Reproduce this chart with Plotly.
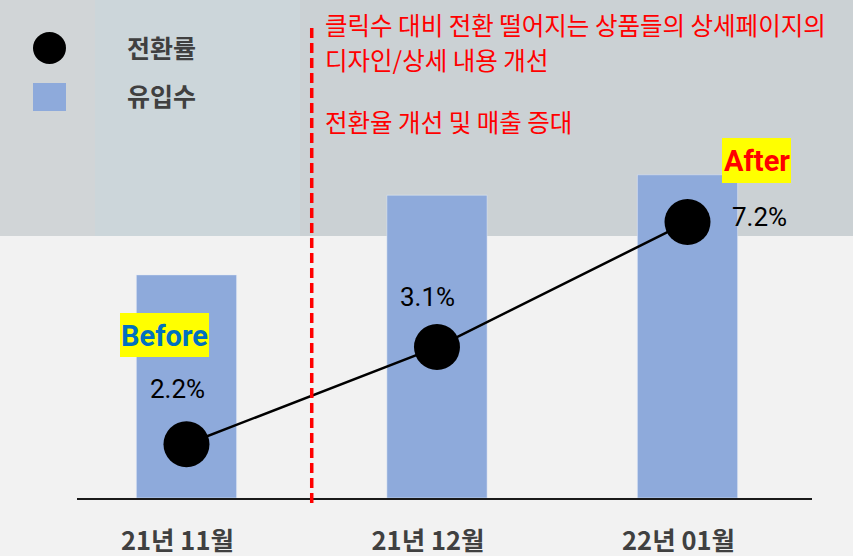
import plotly.graph_objects as go

# ---- data ----
months = ["21년 11월", "21년 12월", "22년 01월"]
inflow = [448, 608, 649]              # 유입수 (relative bar heights)
conv_rate_pos = [1.08, 3.03, 5.54]    # 전환률 marker position on hidden axis
conv_rate_labels = ["2.2%", "3.1%", "7.2%"]
legend_names = ["전환률", "유입수"]
note_lines = ["클릭수 대비 전환 떨어지는 상품들의 상세페이지의", "디자인/상세 내용 개선", "전환율 개선 및 매출 증대"]

W, H = 853, 556
def px(x):
    return x / W
def py(y):
    return 1 - y / H

KR = "Noto Sans CJK KR, Noto Sans, sans-serif"
NARROW = "Roboto, Liberation Sans, sans-serif"

fig = go.Figure()
fig.add_trace(go.Bar(x=months, y=inflow, name=legend_names[1], marker_color="#8eaadb",
                     width=0.4, showlegend=False, yaxis="y"))
fig.add_trace(go.Scatter(x=months, y=conv_rate_pos, name=legend_names[0], mode="lines+markers",
                         line=dict(color="black", width=2.5),
                         marker=dict(color="black", size=46), showlegend=False, yaxis="y2"))

shapes = []
# background: photo-like band at top
shapes.append(dict(type="rect", xref="paper", yref="paper", x0=0, x1=1, y0=py(236), y1=1,
                   fillcolor="#cbd1d4", line_width=0, layer="below"))
shapes.append(dict(type="rect", xref="paper", yref="paper", x0=px(95), x1=px(300), y0=py(236), y1=1,
                   fillcolor="#ccd6da", line_width=0, layer="below"))
shapes.append(dict(type="rect", xref="paper", yref="paper", x0=0, x1=px(95), y0=py(236), y1=1,
                   fillcolor="#d1d5d7", line_width=0, layer="below"))
# legend symbols
shapes.append(dict(type="circle", xref="paper", yref="paper", x0=px(33), x1=px(66), y0=py(64), y1=py(32),
                   fillcolor="black", line_width=0))
shapes.append(dict(type="rect", xref="paper", yref="paper", x0=px(33), x1=px(66), y0=py(111), y1=py(83),
                   fillcolor="#8eaadb", line_width=0))
# yellow highlight boxes
shapes.append(dict(type="rect", xref="paper", yref="paper", x0=px(120), x1=px(209), y0=py(357), y1=py(313),
                   fillcolor="#ffff00", line_width=0))
shapes.append(dict(type="rect", xref="paper", yref="paper", x0=px(722), x1=px(791), y0=py(183), y1=py(138),
                   fillcolor="#ffff00", line_width=0))
# red dashed divider between months
shapes.append(dict(type="line", xref="x", yref="paper", x0=0.5, x1=0.5, y0=py(503), y1=py(27),
                   line=dict(color="#ff0000", width=3.5, dash="10px,5px")))

ann = []
for i, name in enumerate(legend_names):
    ann.append(dict(text=name, xref="paper", yref="paper", x=px(125), y=py(47 + 48 * i),
                    xanchor="left", yanchor="middle", showarrow=False,
                    font=dict(family=KR, size=25, color="#404040", weight="bold")))
for t, yy in zip(note_lines, [25, 59, 122]):
    ann.append(dict(text=t, xref="paper", yref="paper", x=px(323), y=py(yy),
                    xanchor="left", yanchor="middle", showarrow=False,
                    font=dict(family=KR, size=24.5, color="#ff0000")))
for t, (xx, yy) in zip(conv_rate_labels, [(177, 389), (427, 297), (759, 217)]):
    ann.append(dict(text=t, xref="paper", yref="paper", x=px(xx), y=py(yy),
                    xanchor="center", yanchor="middle", showarrow=False,
                    font=dict(family=NARROW, size=26, color="black")))
ann.append(dict(text="Before", xref="paper", yref="paper", x=px(164.5), y=py(336),
                xanchor="center", yanchor="middle", showarrow=False,
                font=dict(family=NARROW, size=29, color="#0070c0", weight="bold")))
ann.append(dict(text="After", xref="paper", yref="paper", x=px(756.5), y=py(161),
                xanchor="center", yanchor="middle", showarrow=False,
                font=dict(family=NARROW, size=29, color="#ff0000", weight="bold")))

fig.update_layout(
    width=W, height=H, margin=dict(l=0, r=0, t=0, b=0, autoexpand=False),
    paper_bgcolor="#f2f2f2", plot_bgcolor="rgba(0,0,0,0)",
    xaxis=dict(domain=[px(77), px(812)], range=[-0.437, 2.497], showgrid=False, automargin=False,
               showline=True, linecolor="#1a1a1a", linewidth=2, ticks="",
               tickfont=dict(family=KR, size=25.5, color="#404040", weight="bold"),
               ticklabelstandoff=19, ticklabelshift=-9),
    yaxis=dict(domain=[1 - 498 / H, 1], range=[0, 1000], visible=False, automargin=False),
    yaxis2=dict(domain=[1 - 498 / H, 1], range=[0, 10], overlaying="y", visible=False, automargin=False),
    shapes=shapes, annotations=ann,
)
fig.write_html(
    "out.html",
    config={"displayModeBar": False},
    post_script=(
        "document.documentElement.style.overflow='hidden';"
        "document.body.style.margin='0';document.body.style.overflow='hidden';"
        "var gd=document.getElementById('{plot_id}');"
        "gd.style.position='fixed';gd.style.left='0px';gd.style.top='0px';"
        "window.scrollTo(0,0);"
    ),
)
